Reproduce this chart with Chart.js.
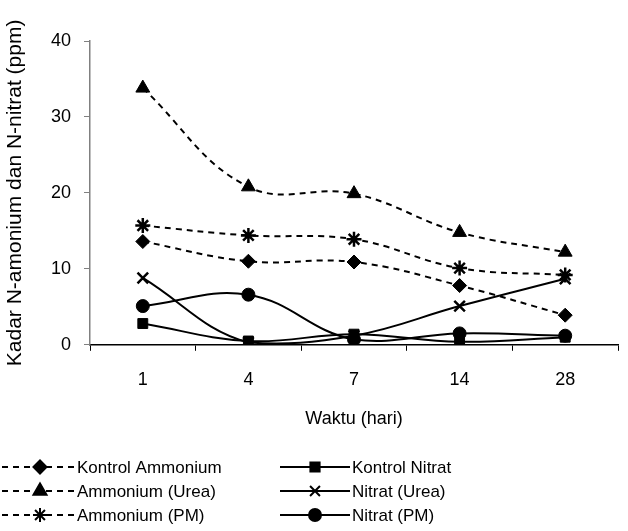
<!DOCTYPE html>
<html>
<head>
<meta charset="utf-8">
<script src="https://cdn.jsdelivr.net/npm/chart.js@4/dist/chart.umd.min.js"></script>
<style>
html,body{margin:0;padding:0;background:#fff;}
</style>
</head>
<body>
<canvas id="canvas" width="628" height="531"></canvas>
<script>
const days=["1","4","7","14","28"];
const yTicks=[0,10,20,30,40];
const kontrolAmmonium=[13.6,11.0,10.9,7.8,3.9];
const ammoniumUrea=[33.8,20.8,19.9,14.8,12.2];
const ammoniumPM=[15.7,14.4,13.9,10.1,9.2];
const kontrolNitrat=[2.8,0.5,1.4,0.4,1.0];
const nitratUrea=[8.8,0.3,1.2,5.1,8.7];
const nitratPM=[5.1,6.6,0.7,1.5,1.2];

const FONT="'Liberation Sans', Arial, sans-serif";
const dash=[6,5];

function series(label,data,style,dashed,radius){
    const filled=style!=="crossRot"&&style!=="star";
    return {
        label:label,
        data:data,
        borderColor:"#000",
        borderWidth:2,
        borderDash:dashed?dash:[],
        tension:0.4,
        fill:false,
        pointStyle:style,
        pointRadius:radius,
        pointHoverRadius:radius,
        pointBackgroundColor:filled?"#000":"rgba(0,0,0,0)",
        pointBorderColor:"#000",
        pointBorderWidth:filled?1:2.5
    };
}

// legend drawn below the chart: ammonium left column, nitrat right column
const legendPlugin={
    id:"bottomLegend",
    afterDraw(chart){
        const ctx=chart.ctx;
        const rows=[467,491,515];
        const cols=[{x0:2,x1:75,mx:40,tx:77},{x0:280,x1:350,mx:315,tx:352}];
        chart.data.datasets.forEach((ds,i)=>{
            const c=cols[Math.floor(i/3)];
            const y=rows[i%3];
            ctx.save();
            ctx.strokeStyle="#000";
            ctx.lineWidth=2;
            ctx.setLineDash(ds.borderDash);
            ctx.beginPath();
            ctx.moveTo(c.x0,y);
            ctx.lineTo(c.x1,y);
            ctx.stroke();
            ctx.setLineDash([]);
            ctx.fillStyle="#000";
            Chart.helpers.drawPoint(ctx,{
                pointStyle:ds.pointStyle,
                radius:ds.pointRadius-0.5,
                borderWidth:ds.pointBorderWidth,
                rotation:0
            },c.mx,y);
            ctx.font="17px "+FONT;
            ctx.textBaseline="middle";
            ctx.fillText(ds.label,c.tx,y+1);
            ctx.restore();
        });
    }
};

new Chart(document.getElementById("canvas"),{
    type:"line",
    data:{
        labels:days,
        datasets:[
            series("Kontrol Ammonium",kontrolAmmonium,"rectRot",true,7),
            series("Ammonium (Urea)",ammoniumUrea,"triangle",true,8),
            series("Ammonium (PM)",ammoniumPM,"star",true,7.5),
            series("Kontrol Nitrat",kontrolNitrat,"rect",false,7),
            series("Nitrat (Urea)",nitratUrea,"crossRot",false,7.5),
            series("Nitrat (PM)",nitratPM,"circle",false,6.5)
        ]
    },
    options:{
        responsive:false,
        animation:false,
        devicePixelRatio:1,
        layout:{padding:{top:41,right:6,bottom:101,left:0}},
        plugins:{legend:{display:false},tooltip:{enabled:false}},
        scales:{
            x:{
                offset:true,
                grid:{offset:true,drawOnChartArea:false,color:"#000",tickLength:6},
                border:{color:"#000",width:1.5},
                ticks:{color:"#000",font:{family:FONT,size:18},padding:18},
                title:{display:true,text:"Waktu (hari)",color:"#000",font:{family:FONT,size:18},padding:0}
            },
            y:{
                min:0,max:40,
                afterBuildTicks(s){s.ticks=yTicks.map(v=>({value:v}));},
                afterFit(s){s.width=90;},
                grid:{drawOnChartArea:false,color:"#808080",tickLength:6},
                border:{color:"#808080",width:1.5},
                ticks:{color:"#000",font:{family:FONT,size:18},padding:13},
                title:{display:true,text:"Kadar N-amonium dan N-nitrat (ppm)",color:"#000",font:{family:FONT,size:21},padding:{top:3,bottom:0}}
            }
        }
    },
    plugins:[legendPlugin]
});
</script>
</body>
</html>
